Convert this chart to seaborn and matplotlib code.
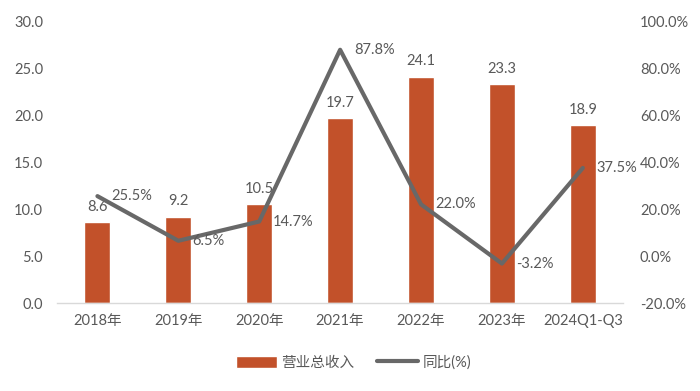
import numpy as np
import seaborn as sns
import matplotlib.pyplot as plt
from matplotlib.lines import Line2D
from matplotlib.patches import Patch

# data
categories = ['2018年', '2019年', '2020年', '2021年', '2022年', '2023年', '2024Q1-Q3']
revenue = [8.6, 9.2, 10.5, 19.7, 24.1, 23.3, 18.9]
yoy = [25.5, 6.5, 14.7, 87.8, 22.0, -3.2, 37.5]
left_ticks = [0, 5, 10, 15, 20, 25, 30]
right_ticks = [-20, 0, 20, 40, 60, 80, 100]

bar_color = '#C2512A'
line_color = '#686868'
text_color = '#595959'

sns.set_style('white')
plt.rcParams['font.family'] = ['Lato', 'Noto Sans CJK SC', 'DejaVu Sans']

fig = plt.figure(figsize=(7, 3.91), dpi=100)
ax = fig.add_axes([0.0814, 0.225, 0.809, 0.721])

sns.barplot(x=categories, y=revenue, color=bar_color, width=0.32, saturation=1, ax=ax)
ax.set_ylim(0, 30)
ax.set_yticks(left_ticks)
ax.set_yticklabels([f'{t:.1f}' for t in left_ticks])
ax.set_xlim(-0.5, len(categories) - 0.5)
for i, v in enumerate(revenue):
    ax.annotate(f'{v:.1f}', (i, v), xytext=(0, 6), textcoords='offset points',
                ha='center', va='bottom', fontsize=10.5, color=text_color)

ax2 = ax.twinx()
x_idx = np.arange(len(categories))
sns.lineplot(x=x_idx, y=yoy, color=line_color, linewidth=3, ax=ax2)
ax2.set_ylim(-20, 100)
ax2.set_yticks(right_ticks)
ax2.set_yticklabels([f'{t:.1f}%' for t in right_ticks])
for i, v in zip(x_idx, yoy):
    ax2.annotate(f'{v:.1f}%', (i, v), xytext=(10, 0), textcoords='offset points',
                 ha='left', va='center', fontsize=10.5, color=text_color)

for a in (ax, ax2):
    for s in a.spines.values():
        s.set_visible(False)
    a.tick_params(length=0, labelsize=10.5, colors=text_color)
    a.set_xlabel('')
    a.set_ylabel('')
ax.spines['bottom'].set_visible(True)
ax.spines['bottom'].set_color('#D9D9D9')
ax.spines['bottom'].set_linewidth(1)
ax.tick_params(axis='x', pad=8)
ax.tick_params(axis='y', pad=10)
ax2.tick_params(axis='y', pad=12)

handles = [Patch(facecolor=bar_color, label='营业总收入'),
           Line2D([0], [0], color=line_color, linewidth=3, label='同比(%)')]
fig.legend(handles=handles, loc='center', bbox_to_anchor=(0.505, 0.072), ncol=2,
           frameon=False, fontsize=10.5, labelcolor=text_color,
           handlelength=2.8, handleheight=0.9, handletextpad=0.3, columnspacing=1.6)

fig.savefig('out.png', dpi=100)
